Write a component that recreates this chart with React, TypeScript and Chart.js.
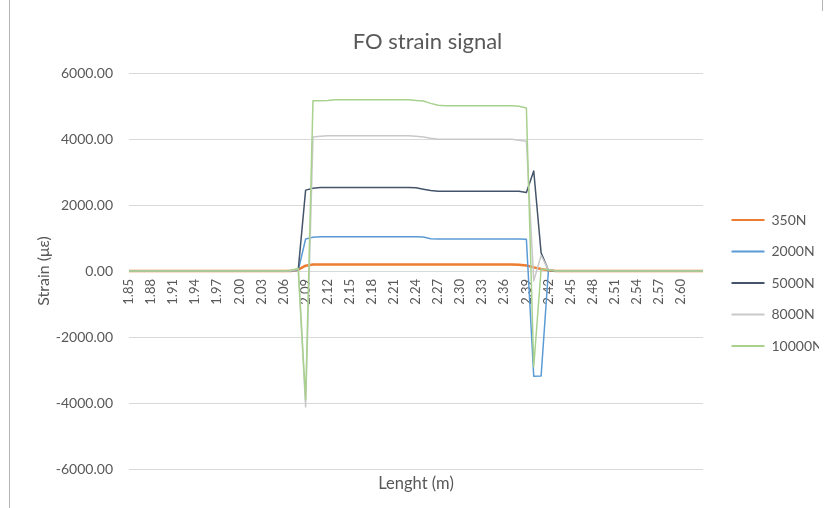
import React, { useEffect, useRef } from 'react';
import { Chart, registerables } from 'chart.js';

Chart.register(...registerables);

const lengths: string[] = [
  '1.85', '1.86', '1.87', '1.88', '1.89', '1.90', '1.91', '1.92', '1.93', '1.94',
  '1.95', '1.96', '1.97', '1.98', '1.99', '2.00', '2.01', '2.02', '2.03', '2.04',
  '2.05', '2.06', '2.07', '2.08', '2.09', '2.10', '2.11', '2.12', '2.13', '2.14',
  '2.15', '2.16', '2.17', '2.18', '2.19', '2.20', '2.21', '2.22', '2.23', '2.24',
  '2.25', '2.26', '2.27', '2.28', '2.29', '2.30', '2.31', '2.32', '2.33', '2.34',
  '2.35', '2.36', '2.37', '2.38', '2.39', '2.40', '2.41', '2.42', '2.43', '2.44',
  '2.45', '2.46', '2.47', '2.48', '2.49', '2.50', '2.51', '2.52', '2.53', '2.54',
  '2.55', '2.56', '2.57', '2.58', '2.59', '2.60', '2.61', '2.62', '2.63',
];

const strain350N: number[] = [
  0, 0, 0, 0, 0, 0, 0, 0, 0, 0, 0, 0, 0, 0, 0, 0, 0, 0, 0, 0, 0, 0,
  0, 40, 160, 200,
  200, 200, 200, 200, 200, 200, 200, 200, 200, 200, 200, 200, 200, 200,
  200, 200, 200, 200, 200, 200, 200, 200, 200, 200, 200, 200, 200,
  190, 170, 110, 60, 20,
  0, 0, 0, 0, 0, 0, 0, 0, 0, 0, 0, 0, 0, 0, 0, 0, 0, 0, 0, 0, 0,
];

const strain2000N: number[] = [
  0, 0, 0, 0, 0, 0, 0, 0, 0, 0, 0, 0, 0, 0, 0, 0, 0, 0, 0, 0, 0, 0,
  0, 20, 970, 1020,
  1040, 1040, 1040, 1040, 1040, 1040, 1040, 1040, 1040, 1040, 1040, 1040, 1040,
  1040, 1030, 980,
  970, 970, 970, 970, 970, 970, 970, 970, 970, 970, 970, 970,
  960, -3190, -3180, 30,
  0, 0, 0, 0, 0, 0, 0, 0, 0, 0, 0, 0, 0, 0, 0, 0, 0, 0, 0, 0, 0,
];

const strain5000N: number[] = [
  0, 0, 0, 0, 0, 0, 0, 0, 0, 0, 0, 0, 0, 0, 0, 0, 0, 0, 0, 0, 0, 0,
  10, 40, 2450, 2510,
  2530, 2530, 2530, 2530, 2530, 2530, 2530, 2530, 2530, 2530, 2530, 2530, 2530,
  2520, 2480, 2440,
  2420, 2420, 2420, 2420, 2420, 2420, 2420, 2420, 2420, 2420, 2420, 2420,
  2380, 3030, 550, 20,
  0, 0, 0, 0, 0, 0, 0, 0, 0, 0, 0, 0, 0, 0, 0, 0, 0, 0, 0, 0, 0,
];

const strain8000N: number[] = [
  0, 0, 0, 0, 0, 0, 0, 0, 0, 0, 0, 0, 0, 0, 0, 0, 0, 0, 0, 0, 0, 0,
  0, 50, -4120, 4060,
  4080, 4100, 4100, 4100, 4100, 4100, 4100, 4100, 4100, 4100, 4100, 4100, 4100,
  4080, 4060, 4020,
  3990, 3990, 3990, 3990, 3990, 3990, 3990, 3990, 3990, 3990, 3990, 3960,
  3930, -300, 470, 40,
  0, 0, 0, 0, 0, 0, 0, 0, 0, 0, 0, 0, 0, 0, 0, 0, 0, 0, 0, 0, 0,
];

const strain10000N: number[] = [
  0, 0, 0, 0, 0, 0, 0, 0, 0, 0, 0, 0, 0, 0, 0, 0, 0, 0, 0, 0, 0, 0,
  20, 80, -3900, 5160,
  5160, 5170, 5190, 5190, 5190, 5190, 5190, 5190, 5190, 5190, 5190, 5190, 5190,
  5170, 5150, 5080,
  5020, 5010, 5010, 5010, 5010, 5010, 5010, 5010, 5010, 5010, 5010, 4990,
  4940, -2900, 60, 30,
  0, 0, 0, 0, 0, 0, 0, 0, 0, 0, 0, 0, 0, 0, 0, 0, 0, 0, 0, 0, 0,
];

const seriesNames: string[] = ['350N', '2000N', '5000N', '8000N', '10000N'];
const seriesColors: string[] = ['#ED7D31', '#5B9BD5', '#44546A', '#C9C9C9', '#A9D18E'];
const seriesWidths: number[] = [2.5, 1.5, 1.5, 1.5, 1.5];
const yTicks: number[] = [-6000, -4000, -2000, 0, 2000, 4000, 6000];

const TEXT = '#595959';
const FONT = 'Lato, "Open Sans", sans-serif';

const legendShift = {
  id: 'legendShift',
  afterLayout(chart: any) {
    const l = chart.legend;
    if (!l) return;
    l.left += 11;
    l.right += 11;
    l.top += 29;
    l.bottom += 29;
  },
};

export default function App() {
  const ref = useRef<HTMLCanvasElement>(null);

  useEffect(() => {
    if (!ref.current) return;
    const allData = [strain350N, strain2000N, strain5000N, strain8000N, strain10000N];
    const chart = new Chart(ref.current, {
      type: 'line',
      data: {
        labels: lengths,
        datasets: seriesNames.map((name, i) => ({
          label: name,
          data: allData[i],
          borderColor: seriesColors[i],
          backgroundColor: seriesColors[i],
          borderWidth: seriesWidths[i],
          pointRadius: 0,
          pointHoverRadius: 0,
          tension: 0,
          fill: false,
          borderJoinStyle: 'round' as const,
          order: seriesNames.length - 1 - i,
          xAxisID: 'x',
          yAxisID: 'y',
        })),
      },
      options: {
        responsive: false,
        animation: false,
        devicePixelRatio: 1,
        layout: { padding: { left: 28, right: 0, top: 0, bottom: 0 } },
        plugins: {
          tooltip: { enabled: false },
          title: {
            display: true,
            text: 'FO strain signal',
            color: TEXT,
            font: { family: FONT, size: 22, weight: 'normal' },
            padding: { top: 20.8, bottom: 17.8 },
          },
          legend: {
            display: true,
            position: 'right',
            align: 'center',
            maxWidth: 116,
            labels: {
              boxWidth: 33,
              boxHeight: 2,
              padding: 17.5,
              color: TEXT,
              font: { family: FONT, size: 14 },
              sort: (a: any, b: any) => a.datasetIndex - b.datasetIndex,
              generateLabels: (c: any) =>
                (Chart.defaults.plugins.legend.labels.generateLabels as any)(c).map((it: any) => ({
                  ...it,
                  fillStyle: it.strokeStyle,
                  lineWidth: 0,
                })),
            },
          },
        },
        scales: {
          x: {
            type: 'category',
            position: { y: 0 } as any,
            grid: { display: false, drawTicks: false },
            border: { display: false },
            ticks: {
              autoSkip: false,
              minRotation: 90,
              maxRotation: 90,
              padding: 8,
              color: TEXT,
              font: { family: FONT, size: 13 },
              callback: (_v: any, i: number) => (i % 3 === 0 && i < 78 ? lengths[i] : ''),
            },
            afterFit: (s: any) => {
              s.height = 0;
            },
          },
          x2: {
            type: 'category',
            position: 'bottom',
            labels: lengths,
            grid: { display: false, drawTicks: false },
            border: { display: false },
            ticks: { display: false },
            title: {
              display: true,
              text: 'Lenght (m)',
              color: TEXT,
              font: { family: FONT, size: 16.5 },
              padding: { top: 0, bottom: 6.5 },
            },
            afterFit: (s: any) => {
              s.height = 31;
            },
          },
          y: {
            type: 'linear',
            min: yTicks[0],
            max: yTicks[yTicks.length - 1],
            afterBuildTicks: (s: any) => {
              s.ticks = yTicks.map((v) => ({ value: v }));
            },
            grid: { color: '#D9D9D9', lineWidth: 1, drawTicks: false },
            border: { display: false },
            ticks: {
              padding: 16,
              color: TEXT,
              font: { family: FONT, size: 14 },
              callback: (v: any) => Number(v).toFixed(2),
            },
            title: {
              display: true,
              text: 'Strain (με)',
              color: TEXT,
              font: { family: FONT, size: 16 },
              padding: { top: -2, bottom: 0 },
            },
            afterFit: (s: any) => {
              s.width = 93;
            },
          },
        },
      } as any,
      plugins: [legendShift],
    });
    return () => chart.destroy();
  }, []);

  return (
    <div style={{ position: 'relative', width: 811, height: 492 }}>
      <canvas ref={ref} width={811} height={492} style={{ display: 'block', width: 811, height: 492 }} />
      <div style={{ position: 'fixed', left: 9, top: 0, width: 1, height: 508, background: '#b4b4b4' }} />
      <div style={{ position: 'fixed', left: 822, top: 0, width: 1, height: 11, background: '#b4b4b4' }} />
    </div>
  );
}
